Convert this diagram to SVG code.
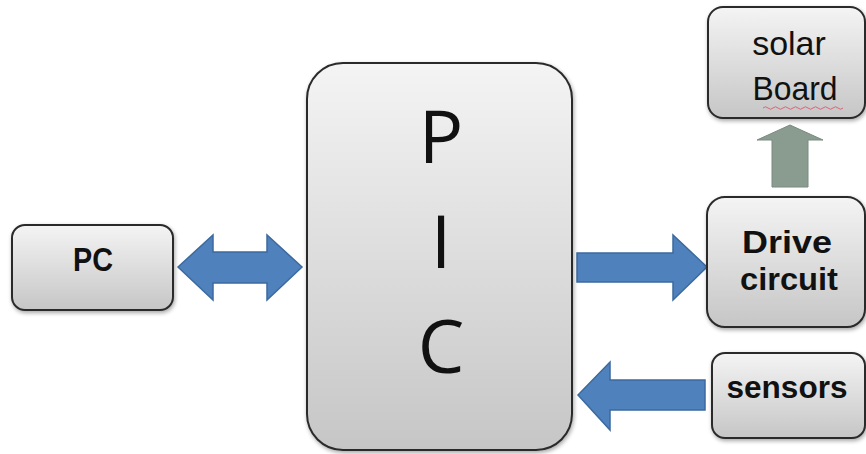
<svg xmlns="http://www.w3.org/2000/svg" width="866" height="454" viewBox="0 0 866 454">
<defs>
<linearGradient id="g" x1="0" y1="0" x2="0" y2="1">
<stop offset="0" stop-color="#f4f4f4"/>
<stop offset="1" stop-color="#c6c6c6"/>
</linearGradient>
<filter id="sh" x="-10%" y="-10%" width="125%" height="125%">
<feGaussianBlur in="SourceAlpha" stdDeviation="2"/>
<feOffset dx="1" dy="2"/>
<feComponentTransfer><feFuncA type="linear" slope="0.35"/></feComponentTransfer>
<feMerge><feMergeNode/><feMergeNode in="SourceGraphic"/></feMerge>
</filter>
</defs>
<style>
.box{fill:url(#g);stroke:#2a2a2a;stroke-width:2;filter:url(#sh)}
.bold{font-family:"Liberation Sans",Arial,sans-serif;font-weight:bold;fill:#111;text-anchor:middle}
.reg{font-family:"Liberation Sans",Arial,sans-serif;fill:#111;text-anchor:middle}
.big{font-family:"Open Sans","Liberation Sans",sans-serif;fill:#111;text-anchor:middle;font-size:74px}
.blue{fill:#4f81bd;stroke:#3b6a9e;stroke-width:1.5}
.green{fill:#8a9b90;stroke:#7a8a80;stroke-width:1}
</style>
<rect width="866" height="454" fill="#ffffff"/>
<g id="connectors">
<path class="blue" d="M178,267 L213,235 L213,252 L267,252 L267,235 L302,267 L267,300 L267,283 L213,283 L213,300 Z"/>
<path class="blue" d="M577,253 L673,253 L673,235 L707,267 L673,300 L673,282 L577,282 Z"/>
<path class="blue" d="M578,395 L610,362 L610,380 L705,380 L705,410 L610,410 L610,430 Z"/>
<path class="green" d="M790,125 L823,140 L808,140 L808,187 L772,187 L772,140 L757,140 Z"/>
</g>
<g id="pc">
<rect class="box" x="12" y="225" width="161" height="85" rx="13"/>
<text class="bold" x="93" y="271" font-size="34" textLength="40" lengthAdjust="spacingAndGlyphs">PC</text>
</g>
<g id="pic">
<rect class="box" x="307" y="63" width="265" height="387" rx="36"/>
<text class="big" x="441" y="163">P</text>
<text class="big" x="441" y="268">I</text>
<text class="big" x="441" y="373">C</text>
</g>
<g id="solar">
<rect class="box" x="708" y="7" width="157" height="111" rx="15"/>
<text class="reg" x="789" y="55" font-size="34">solar</text>
<text class="reg" x="795" y="100" font-size="34" textLength="85" lengthAdjust="spacingAndGlyphs">Board</text>
<path d="M763,108 q2.5,-2.5 5,0 t5,0 t5,0 t5,0 t5,0 t5,0 t5,0 t5,0 t5,0 t5,0 t5,0 t5,0 t5,0 t5,0 t5,0 t5,0" fill="none" stroke="#e0607a" stroke-width="1"/>
</g>
<g id="drive">
<rect class="box" x="707" y="197" width="158" height="130" rx="18"/>
<text class="bold" x="787" y="253" font-size="31" textLength="90" lengthAdjust="spacingAndGlyphs">Drive</text>
<text class="bold" x="789" y="290" font-size="31" textLength="98" lengthAdjust="spacingAndGlyphs">circuit</text>
</g>
<g id="sensors">
<rect class="box" x="712" y="353" width="153" height="85" rx="13"/>
<text class="bold" x="787" y="398" font-size="31" textLength="121" lengthAdjust="spacingAndGlyphs">sensors</text>
</g>
</svg>
